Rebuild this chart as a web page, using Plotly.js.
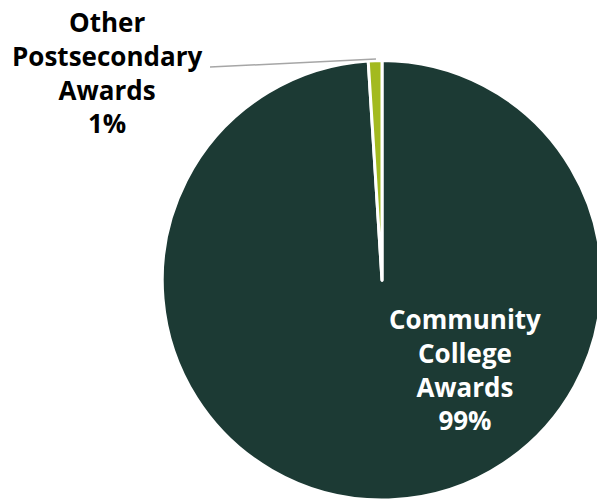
<!DOCTYPE html>
<html>
<head>
<meta charset="utf-8">
<script src="https://cdn.plot.ly/plotly-3.0.1.min.js"></script>
<style>
html, body { margin: 0; padding: 0; overflow: hidden; background: #ffffff; }
#chart { width: 700px; height: 520px; }
</style>
</head>
<body>
<div id="chart"></div>
<script>
// Data
const categories = ["Community College Awards", "Other Postsecondary Awards"];
const values = [99, 1];
const sliceColors = ["#1c3a34", "#a3ba1f"];

const W = 700, H = 520;
function px(x) { return x / W; }
function py(y) { return 1 - y / H; }

const total = values.reduce((a, b) => a + b, 0);
function labelText(i) {
  const pct = Math.round(values[i] / total * 100) + "%";
  return categories[i].split(" ").concat([pct]).join("<br>");
}

const fontFamily = "'Open Sans', Lato, sans-serif";

const trace = {
  type: "pie",
  labels: categories,
  values: values,
  sort: false,
  direction: "counterclockwise",
  rotation: 0,
  textinfo: "none",
  hoverinfo: "label+percent",
  marker: { colors: sliceColors, line: { color: "#ffffff", width: 3 } },
  domain: { x: [px(162), px(602)], y: [py(500), py(60.5)] },
  showlegend: false
};

const layout = {
  width: W,
  height: H,
  margin: { l: 0, r: 0, t: 0, b: 0, pad: 0 },
  paper_bgcolor: "#ffffff",
  showlegend: false,
  shapes: [{
    type: "line", xref: "paper", yref: "paper",
    x0: px(210), y0: py(67), x1: px(376), y1: py(59),
    line: { color: "#a6a6a6", width: 1.5 }
  }],
  annotations: [
    {
      text: labelText(1), xref: "paper", yref: "paper",
      x: px(107), y: py(73), xanchor: "center", yanchor: "middle",
      showarrow: false, align: "center",
      font: { family: fontFamily, size: 26, weight: 700, color: "#000000" }
    },
    {
      text: labelText(0), xref: "paper", yref: "paper",
      x: px(465), y: py(369.5), xanchor: "center", yanchor: "middle",
      showarrow: false, align: "center",
      font: { family: fontFamily, size: 26, weight: 700, color: "#ffffff" }
    }
  ]
};

Plotly.newPlot("chart", [trace], layout, { displayModeBar: false, staticPlot: true });
</script>
</body>
</html>
